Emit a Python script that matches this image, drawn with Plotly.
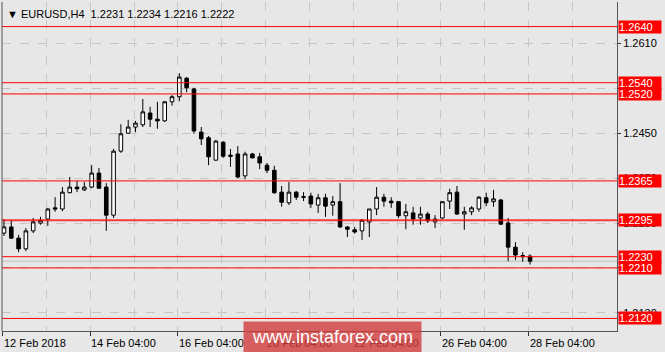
import plotly.graph_objects as go

# ---- data ----
bar_index = list(range(73))

opens = [1.2272,1.2283,1.2263,1.2244,1.2276,1.2290,1.2297,1.2317,1.2315,1.2344,
         1.2354,1.2349,1.2354,1.2379,1.2354,1.2304,1.2418,1.2450,1.2461,1.2465,
         1.2486,1.2475,1.2472,1.2506,1.2515,1.2548,1.2529,1.2452,1.2442,1.2402,
         1.2434,1.2411,1.2413,1.2374,1.2413,1.2408,1.2393,1.2384,1.2345,1.2326,
         1.2345,1.2337,1.2338,1.2322,1.2335,1.2322,1.2328,1.2283,1.2278,1.2276,
         1.2292,1.2315,1.2336,1.2329,1.2328,1.2303,1.2308,1.2299,1.2306,1.2292,
         1.2299,1.2329,1.2345,1.2306,1.2310,1.2315,1.2335,1.2328,1.2331,1.2290,
         1.2247,1.2232,1.2231]

highs = [1.2297,1.2295,1.2269,1.2281,1.2299,1.2301,1.2317,1.2336,1.2354,1.2372,
         1.2365,1.2363,1.2393,1.2388,1.2361,1.2422,1.2466,1.2474,1.2472,1.2511,
         1.2497,1.2506,1.2507,1.2518,1.2557,1.2550,1.2531,1.2461,1.2445,1.2438,
         1.2436,1.2422,1.2427,1.2417,1.2415,1.2415,1.2397,1.2392,1.2356,1.2363,
         1.2347,1.2345,1.2344,1.2342,1.2342,1.2338,1.2361,1.2284,1.2283,1.2297,
         1.2315,1.2354,1.2342,1.2336,1.2329,1.2324,1.2319,1.2319,1.2310,1.2304,
         1.2328,1.2351,1.2356,1.2319,1.2320,1.2338,1.2344,1.2349,1.2333,1.2299,
         1.2256,1.2238,1.2234]

lows = [1.2267,1.2262,1.2238,1.2240,1.2272,1.2287,1.2285,1.2310,1.2311,1.2343,
        1.2345,1.2347,1.2352,1.2351,1.2276,1.2299,1.2415,1.2449,1.2452,1.2461,
        1.2461,1.2458,1.2470,1.2499,1.2507,1.2523,1.2449,1.2429,1.2393,1.2401,
        1.2406,1.2390,1.2370,1.2368,1.2406,1.2386,1.2379,1.2342,1.2319,1.2322,
        1.2331,1.2329,1.2317,1.2308,1.2301,1.2303,1.2281,1.2265,1.2271,1.2260,
        1.2265,1.2304,1.2319,1.2317,1.2299,1.2279,1.2287,1.2287,1.2290,1.2281,
        1.2297,1.2315,1.2305,1.2278,1.2304,1.2310,1.2320,1.2319,1.2287,1.2222,
        1.2224,1.2221,1.2216]

closes = [1.2283,1.2263,1.2244,1.2276,1.2292,1.2295,1.2315,1.2315,1.2345,1.2354,
          1.2351,1.2354,1.2379,1.2352,1.2304,1.2418,1.2449,1.2461,1.2468,1.2488,
          1.2475,1.2472,1.2506,1.2515,1.2550,1.2531,1.2454,1.2440,1.2408,1.2436,
          1.2409,1.2409,1.2372,1.2413,1.2406,1.2397,1.2384,1.2344,1.2327,1.2345,
          1.2336,1.2336,1.2324,1.2335,1.2320,1.2328,1.2283,1.2279,1.2274,1.2295,
          1.2315,1.2336,1.2329,1.2326,1.2303,1.2310,1.2297,1.2306,1.2294,1.2297,
          1.2328,1.2344,1.2306,1.2310,1.2317,1.2336,1.2326,1.2333,1.2288,1.2247,
          1.2233,1.2230,1.2222]

x_tick_bars = [0, 12, 24, 36, 48, 60, 72]
x_tick_labels = ["12 Feb 2018", "14 Feb 04:00", "16 Feb 04:00", "20 Feb 04:00",
                 "22 Feb 04:00", "26 Feb 04:00", "28 Feb 04:00"]

y_tick_values = [1.2130, 1.2210, 1.2290, 1.2370, 1.2450, 1.2530, 1.2610]
y_tick_labels = ["1.2130", "1.2210", "1.2290", "1.2370", "1.2450", "1.2530", "1.2610"]
# tick labels that sit fully behind a level box in the reference
y_tick_hidden = ["1.2210", "1.2530"]

levels = [1.2640, 1.2540, 1.2520, 1.2365, 1.2295, 1.2230, 1.2210, 1.2120]
level_labels = ["1.2640", "1.2540", "1.2520", "1.2365", "1.2295", "1.2230", "1.2210", "1.2120"]

bid_price = 1.2222
title_text = "EURUSD,H4  1.2231 1.2234 1.2216 1.2222"
watermark = "www.instaforex.com"

BG = "#e7e7e7"
FONT = "Liberation Sans, Arial, sans-serif"

fig = go.Figure()

fig.add_trace(go.Candlestick(
    x=bar_index, open=opens, high=highs, low=lows, close=closes,
    increasing=dict(line=dict(color="black", width=1), fillcolor="white"),
    decreasing=dict(line=dict(color="black", width=1), fillcolor="black"),
    whiskerwidth=0, hoverinfo="skip", showlegend=False,
))

shapes = []
# bid line
shapes.append(dict(type="line", xref="paper", x0=0, x1=1, yref="y", y0=bid_price, y1=bid_price,
                   line=dict(color="#d0d0d0", width=2), layer="below"))
for lv in levels:
    w = 2 if abs(lv - 1.2295) < 1e-9 else 1
    col = "rgba(255,0,0,0.75)" if w == 2 else "#ff0000"
    shapes.append(dict(type="line", xref="paper", x0=0, x1=1, yref="y", y0=lv, y1=lv,
                       line=dict(color=col, width=w), layer="above"))
# left border
shapes.append(dict(type="line", xref="paper", x0=0, x1=0, yref="paper", y0=0, y1=1,
                   line=dict(color="#555555", width=1)))

annotations = []
for lv, lab in zip(levels, level_labels):
    annotations.append(dict(x=1, xref="paper", xanchor="left", xshift=1,
                            y=lv, yref="y", yanchor="middle",
                            text=lab, showarrow=False, bgcolor="#ff0000",
                            font=dict(family=FONT, size=11, color="white"),
                            width=42, height=12, align="left", borderpad=0))
for b, lab in zip(x_tick_bars, x_tick_labels):
    annotations.append(dict(x=b - 0.2, xref="x", xanchor="left", xshift=-1,
                            y=0, yref="paper", yanchor="top", yshift=-4,
                            text=lab, showarrow=False,
                            font=dict(family=FONT, size=11, color="black")))
# title
annotations.append(dict(x=0, xref="paper", xanchor="left", xshift=3,
                        y=1, yref="paper", yanchor="top", yshift=-4,
                        text="\u25bc " + title_text, showarrow=False,
                        font=dict(family=FONT, size=11, color="black")))
# watermark
annotations.append(dict(x=0.5374, xref="paper", xanchor="center",
                        y=-0.018, yref="paper", yanchor="middle",
                        text=watermark, showarrow=False,
                        bgcolor="rgba(210,60,60,0.8)", width=177, height=30, borderpad=0,
                        font=dict(family=FONT, size=18, color="white")))

fig.update_layout(
    width=665, height=352,
    margin=dict(l=2, r=48, t=2, b=21),
    paper_bgcolor=BG, plot_bgcolor=BG,
    showlegend=False,
    shapes=shapes, annotations=annotations,
    xaxis=dict(
        range=[-0.27, 83.9], rangeslider=dict(visible=False),
        tickmode="array", tickvals=[b - 0.2 for b in x_tick_bars], ticktext=[""] * len(x_tick_bars),
        showticklabels=False, ticks="outside", ticklen=4, tickcolor="#333",
        showgrid=True, gridcolor="#c6c6c6", griddash="dash", gridwidth=1,
        minor=dict(tick0=-0.2, dtick=6, showgrid=True, gridcolor="#c6c6c6", griddash="dash", ticks=""),
        showline=True, linecolor="#555555", linewidth=1, zeroline=False,
    ),
    yaxis=dict(
        side="right", range=[1.20976, 1.26838],
        tickmode="array", tickvals=y_tick_values,
        ticktext=["" if t in y_tick_hidden else t for t in y_tick_labels],
        ticks="outside", ticklen=3, tickcolor="#333",
        tickfont=dict(family=FONT, size=11, color="black"),
        showgrid=True, gridcolor="#c6c6c6", griddash="dash", gridwidth=1,
        showline=True, linecolor="#555555", linewidth=1, zeroline=False,
    ),
)

fig.write_html("out.html")
